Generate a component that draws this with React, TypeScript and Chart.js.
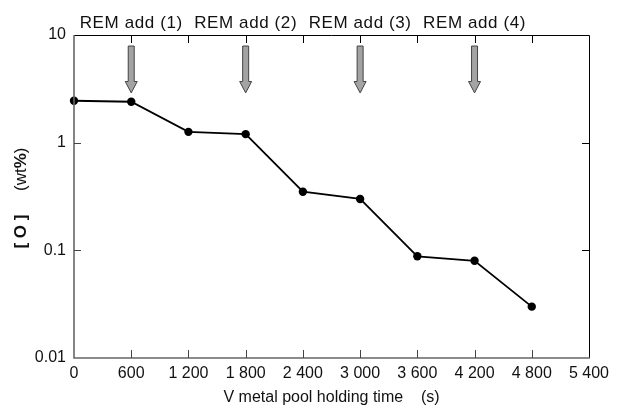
import { useEffect, useRef } from "react";
import { Chart, registerables } from "chart.js";

Chart.register(...registerables);

const times = [0, 600, 1200, 1800, 2400, 3000, 3600, 4200, 4800];
const oxygen = [2.45, 2.4, 1.26, 1.2, 0.35, 0.3, 0.088, 0.08, 0.03];

const xTickValues = [0, 600, 1200, 1800, 2400, 3000, 3600, 4200, 4800, 5400];
const xTickLabels = ["0", "600", "1 200", "1 800", "2 400", "3 000", "3 600", "4 200", "4 800", "5 400"];
const yTickValues = [0.01, 0.1, 1, 10];
const yTickLabels = ["0.01", "0.1", "1", "10"];

const remTimes = [600, 1800, 3000, 4200];
const remLabels = ["REM add (1)", "REM add (2)", "REM add (3)", "REM add (4)"];
const arrowTopValue = 7.9;
const arrowHeadValue = 3.7;
const arrowTipValue = 2.9;

const xTitle = "V metal pool holding time    (s)";

const FONT = "'Liberation Sans', Arial, sans-serif";

const framePlugin = {
  id: "frame",
  afterDraw(chart: any) {
    const { ctx, chartArea } = chart;
    const { left, right, top, bottom } = chartArea;
    const xs = chart.scales.x;
    const ys = chart.scales.y;
    ctx.save();

    // arrows
    remTimes.forEach((t, i) => {
      const cx = xs.getPixelForValue(t);
      const yTop = ys.getPixelForValue(arrowTopValue);
      const yHead = ys.getPixelForValue(arrowHeadValue);
      const yTip = ys.getPixelForValue(arrowTipValue);
      ctx.beginPath();
      ctx.moveTo(cx - 3, yTop);
      ctx.lineTo(cx + 3, yTop);
      ctx.lineTo(cx + 3, yHead);
      ctx.lineTo(cx + 6, yHead);
      ctx.lineTo(cx, yTip);
      ctx.lineTo(cx - 6, yHead);
      ctx.lineTo(cx - 3, yHead);
      ctx.closePath();
      ctx.fillStyle = "#a3a3a3";
      ctx.fill();
      ctx.strokeStyle = "#444";
      ctx.lineWidth = 1;
      ctx.stroke();

      // label
      ctx.fillStyle = "#111";
      ctx.font = `17px ${FONT}`;
      (ctx as any).letterSpacing = "0.6px";
      ctx.textAlign = "center";
      ctx.textBaseline = "alphabetic";
      ctx.fillText(remLabels[i], cx, 27.5);
      (ctx as any).letterSpacing = "0px";
    });

    // frame
    ctx.lineWidth = 1;
    ctx.strokeStyle = "#000";
    ctx.beginPath();
    ctx.moveTo(left, top + 0.5);
    ctx.lineTo(right + 0.5, top + 0.5);
    ctx.lineTo(right + 0.5, bottom);
    ctx.stroke();

    ctx.strokeStyle = "#666";
    ctx.lineWidth = 1.6;
    ctx.beginPath();
    ctx.moveTo(left, top);
    ctx.lineTo(left, bottom);
    ctx.lineTo(right + 1, bottom);
    ctx.stroke();

    // inward ticks
    const tl = 8;
    xTickValues.forEach((v) => {
      const px = Math.round(xs.getPixelForValue(v)) + 0.5;
      if (Math.abs(px - left) < 2 || Math.abs(px - right) < 2) return;
      ctx.lineWidth = 1;
      ctx.strokeStyle = "#000";
      ctx.beginPath();
      ctx.moveTo(px, top);
      ctx.lineTo(px, top + tl);
      ctx.stroke();
      ctx.strokeStyle = "#444";
      ctx.beginPath();
      ctx.moveTo(px, bottom);
      ctx.lineTo(px, bottom - tl);
      ctx.stroke();
    });
    yTickValues.forEach((v) => {
      const py = Math.round(ys.getPixelForValue(v)) + 0.5;
      if (Math.abs(py - top) < 2 || Math.abs(py - bottom) < 2) return;
      ctx.lineWidth = 1;
      ctx.strokeStyle = "#444";
      ctx.beginPath();
      ctx.moveTo(left, py);
      ctx.lineTo(left + 7, py);
      ctx.stroke();
      ctx.strokeStyle = "#000";
      ctx.beginPath();
      ctx.moveTo(right, py);
      ctx.lineTo(right - 7, py);
      ctx.stroke();
    });

    // x title
    ctx.fillStyle = "#111";
    ctx.font = `16px ${FONT}`;
    ctx.textAlign = "center";
    ctx.textBaseline = "middle";
    ctx.fillText(xTitle, (left + right) / 2, 398);

    // y title (rotated, mixed weights)
    const segs: [string, string][] = [
      ["[ O ]", "bold"],
      ["     (wt", "normal"],
      ["%", "bold"],
      [")", "normal"],
    ];
    let total = 0;
    segs.forEach(([s, w]) => {
      ctx.font = `${w} 17px ${FONT}`;
      total += ctx.measureText(s).width;
    });
    ctx.translate(21, 198);
    ctx.rotate(-Math.PI / 2);
    ctx.textAlign = "left";
    ctx.textBaseline = "middle";
    let x0 = -total / 2;
    segs.forEach(([s, w]) => {
      ctx.font = `${w} 17px ${FONT}`;
      ctx.fillText(s, x0, 0);
      x0 += ctx.measureText(s).width;
    });
    ctx.restore();
  },
};

export default function App() {
  const ref = useRef<HTMLCanvasElement>(null);
  useEffect(() => {
    document.body.style.margin = "0";
    const canvas = ref.current;
    if (!canvas) return;
    const chart = new Chart(canvas, {
      type: "line",
      data: {
        datasets: [
          {
            data: times.map((t, i) => ({ x: t, y: oxygen[i] })),
            borderColor: "#000",
            backgroundColor: "#000",
            borderWidth: 1.8,
            pointRadius: 4.2,
            pointBackgroundColor: "#000",
            pointBorderWidth: 0,
            tension: 0,
            clip: false,
          } as any,
        ],
      },
      options: {
        animation: false,
        responsive: true,
        maintainAspectRatio: false,
        layout: { padding: { left: 0, right: 32, top: 35, bottom: 0 } },
        plugins: { legend: { display: false }, tooltip: { enabled: false } },
        scales: {
          x: {
            type: "linear",
            min: 0,
            max: 5400,
            grid: { display: false, drawTicks: false },
            border: { display: false },
            afterBuildTicks: (scale: any) => {
              scale.ticks = xTickValues.map((v) => ({ value: v }));
            },
            afterFit: (scale: any) => {
              scale.height = 57;
            },
            ticks: {
              padding: 6,
              maxRotation: 0,
              autoSkip: false,
              color: "#111",
              font: { family: FONT, size: 16 },
              callback: (v: any) => xTickLabels[xTickValues.indexOf(Number(v))] ?? "",
            },
          },
          y: {
            type: "logarithmic",
            min: 0.01,
            max: 10,
            grid: { display: false, drawTicks: false },
            border: { display: false },
            afterBuildTicks: (scale: any) => {
              scale.ticks = yTickValues.map((v) => ({ value: v }));
            },
            afterFit: (scale: any) => {
              scale.width = 74;
            },
            ticks: {
              padding: 8,
              autoSkip: false,
              color: "#111",
              font: { family: FONT, size: 16 },
              callback: (v: any) => {
                const i = yTickValues.findIndex((t) => Math.abs(t - Number(v)) < 1e-9);
                return i >= 0 ? yTickLabels[i] : "";
              },
            },
          },
        },
      },
      plugins: [framePlugin],
    });
    return () => chart.destroy();
  }, []);
  return (
    <div style={{ position: "relative", width: 621, height: 415 }}>
      <canvas ref={ref} />
    </div>
  );
}
